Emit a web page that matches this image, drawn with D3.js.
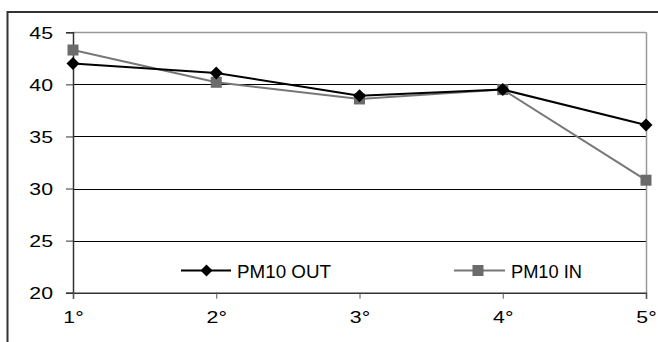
<!DOCTYPE html>
<html><head><meta charset="utf-8">
<script src="https://cdn.jsdelivr.net/npm/d3@7"></script>
<style>body{margin:0;background:#fff}svg{display:block}text{font-family:"Liberation Sans",Arial,sans-serif;fill:#000}</style>
</head><body>
<svg id="c" width="658" height="342"></svg>
<script>
const categories = ["1°","2°","3°","4°","5°"];
const pm10Out = [42.0, 41.1, 38.9, 39.5, 36.1];
const pm10In = [43.3, 40.2, 38.6, 39.5, 30.8];
const yTicks = [20,25,30,35,40,45];
const seriesNames = ["PM10 OUT","PM10 IN"];

const svg = d3.select("#c");
const L=73, R=646, T=32.3, B=292.7;
const x = d3.scalePoint().domain(categories).range([L,R]).padding(0);
const y = d3.scaleLinear().domain([20,45]).range([B,T]);

svg.append("rect").attr("x",7.5).attr("y",12).attr("width",660).attr("height",340)
  .attr("fill","none").attr("stroke","#333").attr("stroke-width",2);

svg.append("g").selectAll("line").data(yTicks.filter(d=>d>20)).join("line")
  .attr("x1",L).attr("x2",R).attr("y1",d=>Math.round(y(d))+0.5).attr("y2",d=>Math.round(y(d))+0.5)
  .attr("stroke",d=>d===45?"#999":"#000").attr("stroke-width",d=>d===45?1.5:1);
svg.append("line").attr("x1",R+0.5).attr("x2",R+0.5).attr("y1",T).attr("y2",B)
  .attr("stroke","#999").attr("stroke-width",1.5);

const yAxis = d3.axisLeft(y).tickValues(yTicks).tickSize(7).tickFormat(d3.format("d"));
const gy = svg.append("g").attr("transform",`translate(${L},0)`).call(yAxis);
gy.attr("font-size",null).attr("font-family",null);
gy.select(".domain").attr("stroke","#333").attr("stroke-width",1.5);
gy.selectAll(".tick line").attr("stroke","#333");
gy.selectAll("text").attr("x",0).attr("dy","0.36em").style("font-size","17px")
  .attr("transform","translate(-20,0) scale(1.25,1)");

const xAxis = d3.axisBottom(x).tickSize(6);
const gx = svg.append("g").attr("transform",`translate(0,${B})`).call(xAxis);
gx.attr("font-size",null).attr("font-family",null);
gx.select(".domain").attr("stroke","#333").attr("stroke-width",1.5);
gx.selectAll(".tick line").attr("stroke","#555");
gx.selectAll("text").attr("y",0).attr("dy",null).style("font-size","17px")
  .attr("transform","translate(0,30) scale(1.25,1)");

const line = d3.line().x((d,i)=>x(categories[i])).y(d=>y(d));
const diamond = (cx,cy,s)=>`M${cx},${cy-s}L${cx+s},${cy}L${cx},${cy+s}L${cx-s},${cy}Z`;

svg.append("path").attr("d",line(pm10In)).attr("fill","none").attr("stroke","#777").attr("stroke-width",2);
svg.append("g").selectAll("rect").data(pm10In).join("rect")
  .attr("x",(d,i)=>x(categories[i])-5.5).attr("y",d=>y(d)-5.5).attr("width",11).attr("height",11).attr("fill","#6b6b6b");
svg.append("path").attr("d",line(pm10Out)).attr("fill","none").attr("stroke","#000").attr("stroke-width",2);
svg.append("g").selectAll("path").data(pm10Out).join("path")
  .attr("d",(d,i)=>diamond(x(categories[i]),y(d),6.5)).attr("fill","#000");

const ly = 270.5;
const lg = svg.append("g");
lg.append("line").attr("x1",181).attr("x2",231).attr("y1",ly).attr("y2",ly).attr("stroke","#000").attr("stroke-width",2);
lg.append("path").attr("d",diamond(206.5,ly,6)).attr("fill","#000");
lg.append("text").attr("x",237).attr("y",ly+7).style("font-size","19px").attr("textLength",94).attr("lengthAdjust","spacingAndGlyphs").text(seriesNames[0]);
lg.append("line").attr("x1",454).attr("x2",505).attr("y1",ly).attr("y2",ly).attr("stroke","#777").attr("stroke-width",2);
lg.append("rect").attr("x",478-5.5).attr("y",ly-5.5).attr("width",11).attr("height",11).attr("fill","#6b6b6b");
lg.append("text").attr("x",511).attr("y",ly+7).style("font-size","19px").attr("textLength",71).attr("lengthAdjust","spacingAndGlyphs").text(seriesNames[1]);
</script>
</body></html>
